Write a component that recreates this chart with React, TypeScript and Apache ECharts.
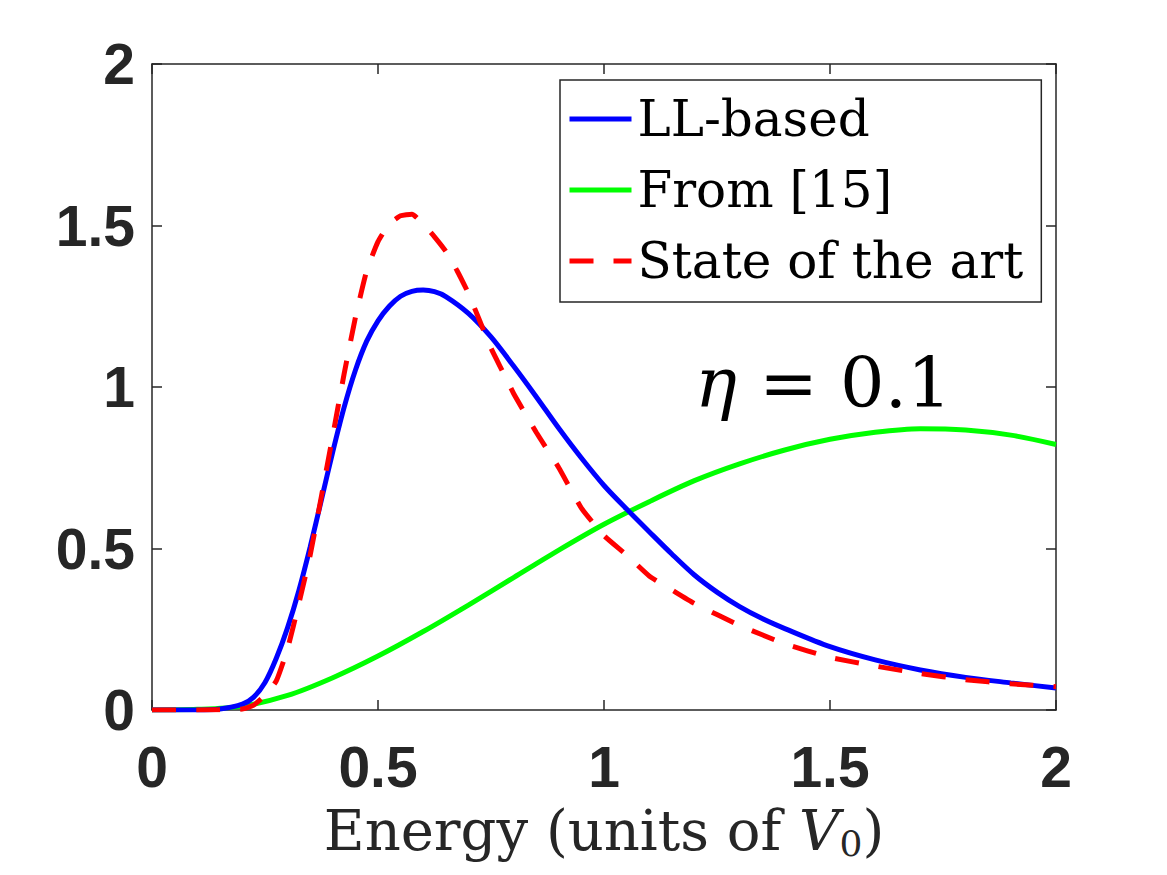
import React, { useEffect, useRef } from "react";
import * as echarts from "echarts";

const llX = [0, 0.1, 0.15, 0.2, 0.225, 0.25, 0.275, 0.3, 0.325, 0.35, 0.375, 0.4, 0.425, 0.45, 0.475, 0.5, 0.525, 0.55, 0.575, 0.6, 0.625, 0.65, 0.7, 0.75, 0.8, 0.85, 0.9, 0.95, 1.0, 1.05, 1.1, 1.15, 1.2, 1.25, 1.3, 1.35, 1.4, 1.5, 1.6, 1.7, 1.8, 1.9, 2.0];
const llY = [0, 0, 0.003, 0.018, 0.04, 0.085, 0.16, 0.255, 0.37, 0.505, 0.652, 0.8, 0.937, 1.052, 1.142, 1.205, 1.25, 1.281, 1.296, 1.3, 1.295, 1.28, 1.228, 1.155, 1.065, 0.97, 0.872, 0.78, 0.695, 0.622, 0.552, 0.483, 0.418, 0.365, 0.32, 0.283, 0.252, 0.196, 0.155, 0.124, 0.101, 0.084, 0.068];

const fromX = [0, 0.1, 0.2, 0.3, 0.4, 0.5, 0.6, 0.7, 0.8, 0.9, 1.0, 1.1, 1.2, 1.3, 1.4, 1.5, 1.6, 1.7, 1.8, 1.9, 2.0];
const fromY = [0, 0.002, 0.012, 0.045, 0.1, 0.167, 0.243, 0.325, 0.41, 0.495, 0.575, 0.645, 0.71, 0.762, 0.805, 0.838, 0.86, 0.871, 0.867, 0.851, 0.822];

const soaX = [0, 0.1, 0.2, 0.225, 0.25, 0.275, 0.3, 0.325, 0.35, 0.375, 0.4, 0.425, 0.45, 0.475, 0.5, 0.525, 0.55, 0.575, 0.6, 0.625, 0.65, 0.675, 0.7, 0.725, 0.75, 0.775, 0.8, 0.85, 0.9, 0.95, 1.0, 1.05, 1.1, 1.15, 1.2, 1.3, 1.4, 1.5, 1.6, 1.7, 1.8, 1.9, 2.0];
const soaY = [0, 0, 0.003, 0.015, 0.045, 0.09, 0.19, 0.33, 0.48, 0.663, 0.85, 1.04, 1.215, 1.36, 1.45, 1.505, 1.53, 1.535, 1.505, 1.465, 1.42, 1.36, 1.29, 1.205, 1.12, 1.05, 0.98, 0.86, 0.75, 0.625, 0.54, 0.48, 0.415, 0.372, 0.33, 0.262, 0.205, 0.163, 0.136, 0.113, 0.094, 0.081, 0.072];

const seriesNames = ["LL-based", "From [15]", "State of the art"];
const tickLabels = ["0", "0.5", "1", "1.5", "2"];

const zip = (xs: number[], ys: number[]) => xs.map((x, i) => [x, ys[i]]);

const AXIS = "#262626";

export default function App() {
  const ref = useRef<HTMLDivElement>(null);
  useEffect(() => {
    if (!ref.current) return;
    const chart = echarts.init(ref.current, null, { renderer: "svg" });
    const tickLabel = {
      fontFamily: "Liberation Sans",
      fontWeight: "bold" as const,
      fontSize: 57,
      color: AXIS,
    };
    const fmt = (v: number) => tickLabels[Math.round(v / 0.5)] ?? String(v);
    const baseAxis = {
      type: "value" as const,
      min: 0,
      max: 2,
      interval: 0.5,
      splitLine: { show: false },
      axisLine: { show: true, onZero: false, lineStyle: { color: AXIS, width: 1.5 } },
      axisTick: { show: true, inside: true, length: 10, lineStyle: { color: AXIS, width: 1.5 } },
    };
    chart.setOption({
      animation: false,
      backgroundColor: "#ffffff",
      grid: { left: 152, right: 111, top: 64, bottom: 165, containLabel: false },
      xAxis: [
        {
          ...baseAxis,
          position: "bottom",
          axisLabel: { ...tickLabel, margin: 28, formatter: fmt },
          name: "Energy (units of {i|V}{s|0})",
          nameLocation: "middle",
          nameGap: 89,
          nameTextStyle: {
            fontFamily: "DejaVu Serif",
            fontSize: 56,
            color: AXIS,
            lineHeight: 62,
            rich: {
              i: { fontFamily: "DejaVu Serif", fontStyle: "italic", fontSize: 56, color: AXIS, lineHeight: 62 },
              s: { fontFamily: "DejaVu Serif", fontSize: 36, color: AXIS, lineHeight: 44, verticalAlign: "bottom" },
            },
          },
        },
        { ...baseAxis, position: "top", axisLabel: { show: false } },
      ],
      yAxis: [
        {
          ...baseAxis,
          position: "left",
          axisLabel: { ...tickLabel, margin: 17, formatter: fmt },
        },
        { ...baseAxis, position: "right", axisLabel: { show: false } },
      ],
      legend: {
        orient: "vertical",
        left: 560,
        top: 80,
        padding: [11, 18, 13, 7],
        itemGap: 15,
        itemWidth: 62,
        itemHeight: 14,
        backgroundColor: "#ffffff",
        borderColor: AXIS,
        borderWidth: 1.5,
        borderRadius: 0,
        itemStyle: { opacity: 0, color: "transparent", borderWidth: 0 },
        lineStyle: { width: 5 },
        textStyle: { fontFamily: "DejaVu Serif", fontSize: 50, color: "#000000", lineHeight: 56, padding: [0, 0, 0, 1] },
        data: seriesNames,
      },
      graphic: [
        {
          type: "text",
          left: 695,
          top: 348,
          style: {
            text: "{i|η} = 0.1",
            font: "70px 'DejaVu Serif'",
            fill: "#000000",
            rich: {
              i: { fontStyle: "italic", fontFamily: "DejaVu Serif", fontSize: 70, fill: "#000000" },
            },
          },
        },
      ],
      series: [
        {
          name: seriesNames[0],
          type: "line",
          data: zip(llX, llY),
          smooth: 0.3,
          symbol: "none",
          lineStyle: { color: "#0000ff", width: 5 },
          itemStyle: { color: "#0000ff" },
          z: 3,
        },
        {
          name: seriesNames[1],
          type: "line",
          data: zip(fromX, fromY),
          smooth: 0.3,
          symbol: "none",
          lineStyle: { color: "#00ff00", width: 5 },
          itemStyle: { color: "#00ff00" },
          z: 2,
        },
        {
          name: seriesNames[2],
          type: "line",
          data: zip(soaX, soaY),
          smooth: 0.15,
          symbol: "none",
          lineStyle: { color: "#ff0000", width: 5, type: [24, 20] },
          itemStyle: { color: "#ff0000" },
          z: 4,
        },
      ],
    });
    return () => chart.dispose();
  }, []);
  return (
    <div
      ref={ref}
      style={{ position: "fixed", left: 0, top: 0, width: 1167, height: 875, background: "#fff" }}
    />
  );
}
